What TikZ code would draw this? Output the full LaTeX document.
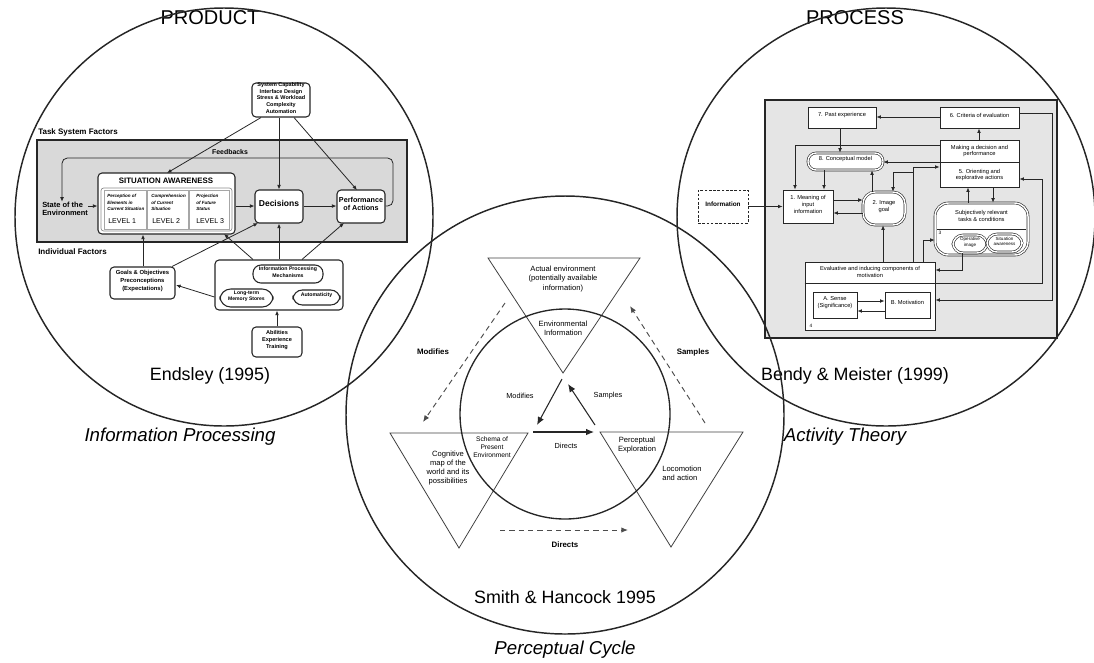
\documentclass[tikz,border=0pt]{standalone}
\usepackage{fontspec}
\setmainfont{Liberation Sans}
\usetikzlibrary{arrows.meta,fit,calc}
\newcommand{\fz}[2]{\fontsize{#1pt}{#2pt}\selectfont}
\begin{document}
\begin{tikzpicture}[x=0.75pt,y=-0.75pt,
  ring/.style={draw=black!85, line width=1.1pt},
  arr/.style={draw=black!85, line width=0.6pt, -{Latex[length=3.4pt,width=2.8pt]}},
  darr/.style={draw=black!70, line width=0.7pt, dash pattern=on 4pt off 3pt, -{Latex[length=5pt,width=4pt]}},
  ebox/.style={draw=black!85, line width=0.8pt, rounded corners=3pt, fill=white, inner sep=0pt, align=center, font=\fz{4.6}{5.4}\bfseries},
  rbox/.style={draw=black!85, line width=0.6pt, fill=white, inner sep=0pt, align=center, font=\fz{4.3}{5.2}},
  dbox/.style={rbox, double, double distance=1.1pt, line width=0.45pt, rounded corners=6pt},
  tri/.style={draw=black!75, line width=0.6pt},
  lab/.style={inner sep=0pt, align=center},
]
\useasboundingbox (0,0) rectangle (1094,662);

% ---------------- Endsley (1995): the product view ----------------
\node[lab, font=\fz{15}{17}] (product) at (210,18) {PRODUCT};
\node[draw=black!85, line width=1.8pt, fill=black!15, inner sep=0pt, fit={(37,140) (407,242)}] (tsf) {};
\node[lab, anchor=west, font=\fz{6}{7}\bfseries] (tsflab) at (38,132) {Task System Factors};
\node[lab, font=\fz{5.2}{6}\bfseries] (fblab) at (230,152) {Feedbacks};
\node[lab, anchor=west, font=\fz{6}{7}\bfseries] (iflab) at (38,252) {Individual Factors};

\node[ebox, align=left, font=\fz{4.1}{5}\bfseries, fit={(252,83) (310,117)}] (sys) {System Capability\\Interface Design\\Stress \& Workload\\Complexity\\Automation};
\node[lab, anchor=west, align=left, font=\fz{5.6}{6.4}\bfseries] (state) at (42,209) {State of the\\Environment};
\node[ebox, fit={(98,173) (235,234)}] (sa) {};
\node[lab, font=\fz{5.9}{7}\bfseries] (satitle) at (166,181) {SITUATION AWARENESS};
\draw[draw=black!45, line width=0.5pt, rounded corners=2pt] (101,188) rectangle (232,231);
\foreach \xa/\xb in {104/146, 147/188, 189/229}
  \draw[draw=black!35, line width=0.4pt] (\xa,190) rectangle (\xb,229);
\node[lab, anchor=north west, align=left, font=\fz{3.4}{4.9}\itshape\bfseries] (l1) at (107,194) {Perception of\\Elements in\\Current Situation};
\node[lab, anchor=north west, align=left, font=\fz{3.4}{4.9}\itshape\bfseries] (l2) at (151,194) {Comprehension\\of Current\\Situation};
\node[lab, anchor=north west, align=left, font=\fz{3.4}{4.9}\itshape\bfseries] (l3) at (196,194) {Projection\\of Future\\Status};
\node[lab, anchor=west, font=\fz{5.3}{6}] (lv1) at (108,221) {LEVEL 1};
\node[lab, anchor=west, font=\fz{5.3}{6}] (lv2) at (152,221) {LEVEL 2};
\node[lab, anchor=west, font=\fz{5.3}{6}] (lv3) at (196,221) {LEVEL 3};

\node[ebox, font=\fz{6.4}{7.4}\bfseries, fit={(255,190) (303,223)}] (dec) {Decisions};
\node[ebox, font=\fz{5.4}{6.6}\bfseries, fit={(337,190) (385,223)}] (perf) {Performance\\of Actions};

\node[ebox, align=left, font=\fz{4.4}{6}\bfseries, fit={(110,267) (175,299)}] (goals) {Goals \& Objectives\\Preconceptions\\(Expectations)};
\node[ebox, fit={(215,260) (343,310)}] (info) {};
\node[ebox, rounded corners=6pt, font=\fz{3.9}{4.7}\bfseries, fit={(253,265) (323,283)}] (ipm) {Information Processing\\Mechanisms};
\node[ebox, rounded corners=8pt, font=\fz{3.8}{4.6}\bfseries, fit={(220,289) (273,307)}] (ltm) {Long-term\\Memory Stores};
\node[ebox, rounded corners=7pt, font=\fz{3.9}{4.6}\bfseries, fit={(293,290) (340,305)}] (auto) {Automaticity};
\node[ebox, font=\fz{4.2}{5.4}\bfseries, fit={(252,327) (302,357)}] (abil) {Abilities\\Experience\\Training};

\draw[arr] (state.east |- 0,206) -- (sa.west |- 0,206);
\draw[arr] (sa.east |- 0,206) -- (dec.west |- 0,206);
\draw[arr] (dec.east |- 0,206) -- (perf.west |- 0,206);
\draw[arr, rounded corners=4pt] (perf.east |- 0,206) -- (393,206) -- (393,158) -- (62,158) -- (62,158 |- state.north);
\draw[arr] (sys.south -| 261,0) -- (167,173);
\draw[arr] (sys.south -| 279,0) -- (dec.north -| 279,0);
\draw[arr] (sys.south -| 294,0) -- (357,190);
\draw[arr] (goals.north -| 143,0) -- (sa.south -| 143,0);
\draw[arr] (goals.north -| 172,0) -- (258,223);
\draw[arr] (info.north -| 253,0) -- (224,234);
\draw[arr] (info.north -| 279,0) -- (dec.south -| 279,0);
\draw[arr] (info.north -| 302,0) -- (344,223);
\draw[arr] (info.west |- 0,297) -- (176,285);
\draw[arr] (abil.north -| 277,0) -- (info.south -| 277,0);

\node[lab, font=\fz{13.4}{15}] (endsley) at (210,376) {Endsley (1995)};

% ---------------- Bendy & Meister (1999): the process view ----------------
\node[lab, font=\fz{15}{17}] (process) at (855,18) {PROCESS};
\node[draw=black!85, line width=1pt, fill=black!10, inner sep=0pt, fit={(765,100) (1057,338)}] (actbox) {};

\node[rbox, dashed, dash pattern=on 2pt off 1.2pt, line width=0.7pt, font=\fz{4.8}{5.6}\bfseries, fit={(698,190) (748,223)}] (inform) {Information};
\node[rbox, fit={(783,190) (833,223)}] (b1) {1. Meaning of\\input\\information};
\node[rbox, fit={(808,107) (876,128)}] (b7) {7. Past experience};
\node[dbox, fit={(808,153) (883,170)}] (b8) {8. Conceptual model};
\node[dbox, rounded corners=9pt, fit={(863,192) (905,225)}] (b2) {2. Image\\goal};
\node[rbox, fit={(940,107) (1019,128)}] (b6) {6. Criteria of evaluation};
\node[rbox, fit={(940,140) (1019,187)}] (b5) {};
\draw[draw=black!85, line width=0.6pt] (b5.west |- 0,162) -- (b5.east |- 0,162);
\node[lab, font=\fz{4.3}{5.2}] (b5a) at (979.5,151) {Making a decision and\\performance};
\node[lab, font=\fz{4.3}{5.2}] (b5b) at (979.5,175) {5. Orienting and\\explorative actions};
\node[dbox, rounded corners=10pt, fit={(935,203) (1028,255)}] (b3) {};
\draw[draw=black!85, line width=0.5pt] (937,229) -- (1026,229);
\node[lab, font=\fz{4.3}{5.2}] (b3t) at (981.5,216) {Subjectively relevant\\tasks \& conditions};
\node[lab, font=\fz{3.6}{4}] (n3) at (940,233) {3};
\node[dbox, rounded corners=7.5pt, font=\fz{3.4}{4.1}, fit={(953,235) (987,253)}] (opim) {Operative\\image};
\node[dbox, rounded corners=7.5pt, font=\fz{3.4}{4.1}, fit={(987,234) (1022,252)}] (sitaw) {Situation\\awareness};
\node[rbox, fit={(805,262) (935,330)}] (b4) {};
\draw[draw=black!85, line width=0.6pt] (b4.west |- 0,283) -- (b4.east |- 0,283);
\node[lab, font=\fz{4.3}{5.2}] (b4t) at (870,272) {Evaluative and inducing components of\\motivation};
\node[lab, font=\fz{3.6}{4}] (n4) at (811,326) {4};
\node[rbox, fit={(813,292) (857,318)}] (ba) {A. Sense\\(Significance)};
\node[rbox, fit={(885,292) (930,318)}] (bb) {B. Motivation};

\draw[arr] (inform.east) -- (b1.west |- inform.east);
\draw[arr] (b6.west |- 0,117) -- (b7.east |- 0,117);
\draw[arr] (b7.south -| 840,0) -- (b8.north -| 840,0);
\draw[arr] (b5.west |- 0,145) -- (795,145) -- (b1.north -| 795,0);
\draw[arr] (b8.south -| 824,0) -- (b1.north -| 824,0);
\draw[arr] (b1.east |- 0,200) -- (b2.west |- 0,200);
\draw[arr] (b2.west |- 0,213) -- (b1.east |- 0,213);
\draw[arr] (b2.north -| 872,0) -- (b8.south -| 872,0);
\draw[arr] (b5.west |- 0,162) -- (b8.east |- 0,162);
\draw[arr] (b4.north -| 913,0) -- (913,167) -- (b5.west |- 0,167);
\draw[arr] (913,172) -- (893,172) -- (b2.north -| 893,0);
\draw[arr] (b4.north -| 883,0) -- (b2.south -| 883,0);
\draw[arr] (b4.north -| 923,0) -- (923,240) -- (b3.west |- 0,240);
\draw[arr] (b3.north -| 968,0) -- (b5.south -| 968,0);
\draw[arr] (b5.south -| 993,0) -- (b3.north -| 993,0);
\draw[arr] (b5.north -| 979,0) -- (b6.south -| 979,0);
\draw[arr] (b6.east |- 0,113) -- (1052,113) -- (1052,300) -- (b4.east |- 0,300);
\draw[arr] (b4.east |- 0,283) -- (1042,283) -- (1042,179) -- (b5.east |- 0,179);
\draw[arr] (opim.south -| 962,0) -- (962,270) -- (b4.east |- 0,270);
\draw[arr] (ba.east |- 0,301) -- (bb.west |- 0,301);
\draw[arr] (bb.west |- 0,311) -- (ba.east |- 0,311);

\node[lab, font=\fz{13.4}{15}] (bendy) at (855,376) {Bendy \& Meister (1999)};

% ---------------- Smith & Hancock (1995): the perceptual cycle ----------------
\coordinate (ta) at (488,258); \coordinate (tb) at (640,258); \coordinate (tc) at (563,373);
\coordinate (la) at (390,433); \coordinate (lb) at (528,433); \coordinate (lc) at (459,548);
\coordinate (ra) at (600,432); \coordinate (rb) at (743,432); \coordinate (rc) at (671,547);
\draw[tri] (ta) -- (tb) -- (tc) -- cycle;
\draw[tri] (la) -- (lb) -- (lc) -- cycle;
\draw[tri] (ra) -- (rb) -- (rc) -- cycle;
\draw[draw=black!85, line width=1pt] (565,414) circle[radius=78.75pt];

\node[lab, font=\fz{5.7}{6.8}] (actual) at (563,279) {Actual environment\\(potentially available\\information)};
\node[lab, font=\fz{5.7}{6.8}] (envinfo) at (563,328.5) {Environmental\\Information};
\node[lab, font=\fz{5}{5.8}] (schema) at (492,447) {Schema of\\Present\\Environment};
\node[lab, font=\fz{5.7}{6.8}] (cogmap) at (448,468) {Cognitive\\map of the\\world and its\\possibilities};
\node[lab, font=\fz{5.7}{6.8}] (percexp) at (637,445) {Perceptual\\Exploration};
\node[lab, anchor=west, align=left, font=\fz{5.7}{6.8}] (locom) at (662,473) {Locomotion\\and action};

\draw[arr, line width=0.8pt, -{Latex[length=6pt,width=5pt]}] ($(tc)+(-1,6)$) -- ($(lb)+(9,-8)$);
\draw[arr, line width=0.8pt, -{Latex[length=6pt,width=5pt]}] ($(ra)+(-5,-7)$) -- ($(tc)+(5,11)$);
\draw[arr, line width=0.8pt, -{Latex[length=6pt,width=5pt]}] ($(lb)+(5,-1)$) -- ($(ra)+(-6,0)$);
\node[lab, font=\fz{5.5}{6.5}] (modin) at (520,396) {Modifies};
\node[lab, font=\fz{5.5}{6.5}] (samin) at (608,396) {Samples};
\node[lab, font=\fz{5.5}{6.5}] (dirin) at (566,446) {Directs};

\draw[darr] (505,303) -- (423,422);
\draw[darr] (705,423) -- (630,306);
\draw[darr] (500,530) -- (628,530);
\node[lab, font=\fz{5.9}{7}\bfseries] (modout) at (433,352) {Modifies};
\node[lab, font=\fz{5.9}{7}\bfseries] (samout) at (693,352) {Samples};
\node[lab, font=\fz{5.9}{7}\bfseries] (dirout) at (565,545) {Directs};

\node[lab, font=\fz{13.4}{15}] (smith) at (565,597) {Smith \& Hancock 1995};

% ---------------- the three overlapping fields ----------------
\draw[ring] (224,217) circle[radius=156.75pt];
\draw[ring] (886,217) circle[radius=156.75pt];
\draw[ring] (565,415) circle[radius=164.25pt];

\node[lab, font=\fz{14}{16}\itshape] (ipt) at (180,437) {Information Processing};
\node[lab, font=\fz{14}{16}\itshape] (actt) at (845,437) {Activity Theory};
\node[lab, font=\fz{14}{16}\itshape] (pct) at (565,650) {Perceptual Cycle};
\end{tikzpicture}
\end{document}
